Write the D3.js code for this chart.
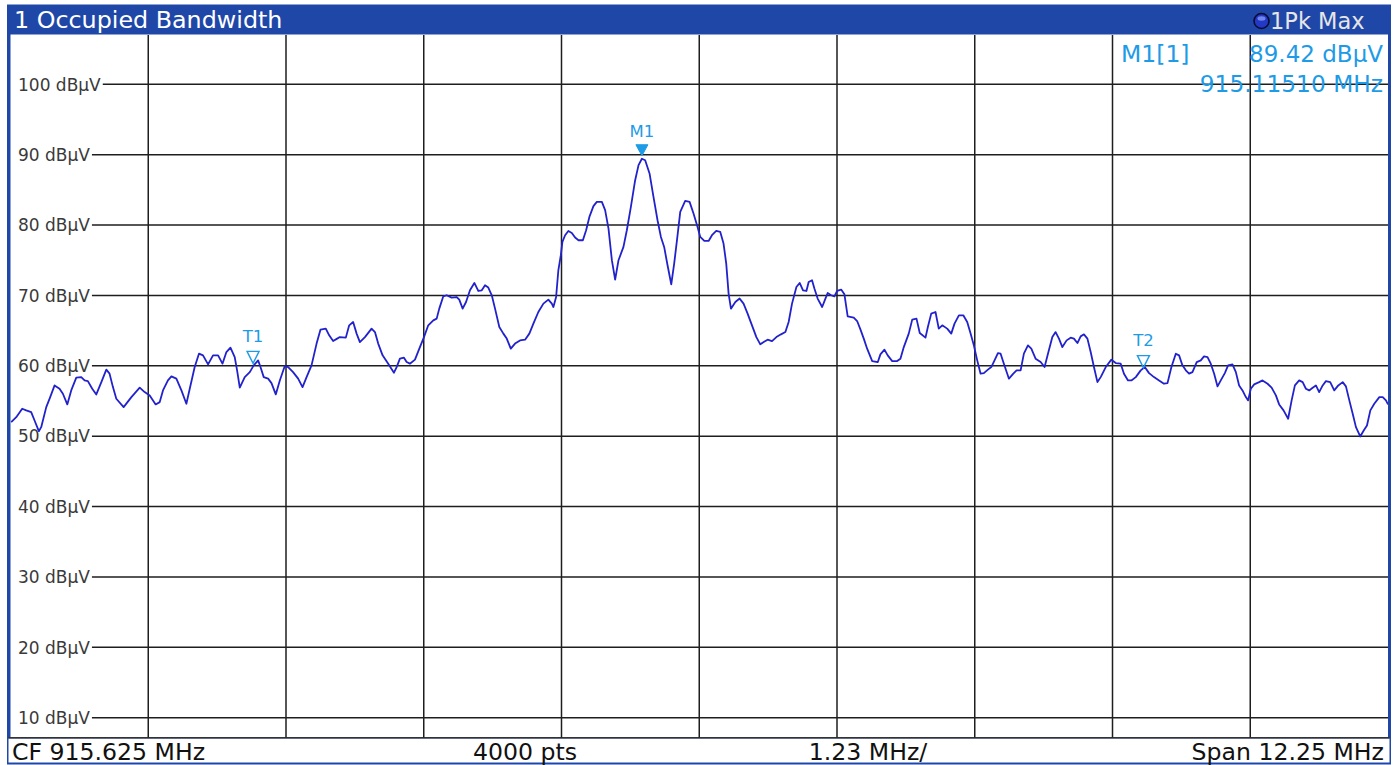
<!DOCTYPE html>
<html>
<head>
<meta charset="utf-8">
<script src="https://cdn.jsdelivr.net/npm/d3@7"></script>
<style>
html,body{margin:0;padding:0;background:#fff;}
svg{display:block;font-family:"DejaVu Sans",Verdana,sans-serif;}
</style>
</head>
<body>
<svg width="1398" height="765"></svg>
<script>
// ---------------- data ----------------
var title = "1 Occupied Bandwidth";
var traceName = "1Pk Max";
var refLevel = 107, levelRange = 100;        // dBµV
var centerMHz = 915.625, spanMHz = 12.25;
var yTicks = [10, 20, 30, 40, 50, 60, 70, 80, 90, 100];
var xGrid = [910.725, 911.95, 913.175, 914.4, 915.625, 916.85, 918.075, 919.3, 920.525];
var footer = ["CF 915.625 MHz", "4000 pts", "1.23 MHz/", "Span 12.25 MHz"];

var markerNames = ["M1", "T1", "T2"];
var markerMHz = [915.1151, 911.657, 919.575];
var markerDbuv = [89.42, 60.2, 59.6];
var markerFilled = [true, false, false];
var markerInfo = ["M1[1]", "89.42 dBµV", "915.11510 MHz"];

var traceMHz = [
909.506,909.551,909.604,909.640,909.684,909.714,909.752,909.773,909.818,909.853,
909.892,909.936,909.966,910.005,910.040,910.085,910.129,910.159,910.188,910.227,
910.263,910.308,910.352,910.381,910.411,910.441,910.506,910.575,910.649,910.693,
910.738,910.791,910.827,910.856,910.900,910.931,910.975,911.020,911.064,911.094,
911.138,911.176,911.212,911.257,911.301,911.346,911.385,911.420,911.456,911.494,
911.515,911.539,911.583,911.628,911.663,911.702,911.723,911.752,911.791,911.821,
911.859,911.895,911.939,911.969,912.013,912.058,912.097,912.133,912.177,912.222,
912.257,912.304,912.334,912.369,912.405,
912.429,912.482,912.512,912.547,912.578,912.607,912.652,912.711,912.741,912.770,
912.809,912.859,912.910,912.934,912.963,912.999,913.023,913.052,913.097,913.141,
913.177,913.215,913.260,913.290,913.313,913.349,913.379,913.423,913.468,913.491,
913.521,913.551,913.586,913.625,913.660,913.691,913.720,913.749,913.780,913.809,
913.847,913.883,913.913,913.949,913.987,914.031,914.076,914.114,914.150,914.194,
914.239,914.283,914.314,914.328,914.352,914.372,914.394,914.408,914.432,914.461,
914.492,914.521,914.551,914.590,914.619,914.648,914.684,914.714,914.759,914.788,
914.818,914.848,914.877,914.907,914.951,914.981,915.017,915.055,915.085,915.115,
915.144,915.183,915.218,915.254,915.284,915.313,915.343,915.376,915.402,915.427,
915.456,915.500,915.539,915.574,915.610,915.634,
915.670,915.708,915.738,915.776,915.812,915.841,915.865,915.886,915.907,915.946,
915.984,916.019,916.055,916.094,916.133,916.168,916.198,916.233,916.272,916.311,
916.352,916.391,916.420,916.450,916.489,916.518,916.548,916.578,916.598,916.628,
916.649,916.678,916.718,916.747,916.767,916.798,916.827,916.851,916.887,916.916,
916.945,916.999,917.029,917.059,917.088,917.118,917.163,917.213,917.236,917.272,
917.301,917.341,917.385,917.414,917.444,917.488,917.519,917.557,917.586,917.637,
917.658,917.688,917.726,917.755,917.786,917.830,917.866,917.895,917.934,917.973,
918.008,918.038,918.067,918.097,918.127,918.156,918.192,918.222,918.251,918.281,
918.305,918.334,918.379,918.418,918.447,918.483,918.512,918.548,918.578,918.616,
918.661,918.696,918.726,918.765,918.794,918.824,918.854,918.892,918.928,918.957,
918.988,919.017,919.046,919.077,919.106,919.135,919.166,919.195,919.240,919.290,
919.329,919.373,919.402,919.438,919.468,919.507,919.551,919.587,919.625,919.669,
919.714,919.758,919.789,919.824,919.863,919.892,919.922,919.952,919.981,920.011,
920.049,920.085,920.114,920.145,920.174,920.204,920.234,920.263,920.299,920.328,
920.367,920.397,920.426,920.456,920.486,920.506,920.530,920.560,920.604,920.634,
920.679,920.715,920.753,920.782,920.821,920.862,920.893,920.922,920.960,920.991,
921.020,921.049,921.080,921.109,921.138,921.169,921.198,921.236,921.272,921.308,
921.347,921.376,921.406,921.436,921.465,921.503,921.534,921.563,921.593,921.628,
921.673,921.703,921.732,921.750
];
var traceDbuv = [
51.99,52.70,53.90,53.66,53.42,52.23,50.71,51.28,54.13,55.55,
57.21,56.74,56.03,54.51,56.50,58.31,58.39,57.92,57.82,56.74,
55.93,57.68,59.45,58.88,56.97,55.32,54.13,55.55,56.89,56.26,
55.79,54.51,54.84,56.50,57.92,58.49,58.17,56.50,54.61,56.74,
59.82,61.72,61.48,60.20,61.48,61.48,60.30,61.95,62.58,61.24,
59.35,56.89,58.39,59.10,60.06,60.77,59.82,58.39,58.17,57.54,
55.93,57.92,59.96,59.82,59.10,58.17,56.97,58.39,60.06,63.15,
65.14,65.28,64.33,63.51,63.86,
64.08,64.00,65.75,66.22,64.57,63.37,64.08,65.28,64.79,63.15,
61.48,60.30,59.02,59.82,61.01,61.15,60.53,60.30,60.87,62.66,
64.08,65.75,66.46,66.70,68.12,69.87,70.02,69.69,69.77,69.40,
68.12,69.06,70.73,71.77,70.63,70.73,71.44,71.11,70.02,68.12,
65.51,64.57,63.86,62.43,63.15,63.61,63.71,64.57,65.99,67.64,
68.83,69.40,68.83,68.35,69.77,73.57,75.71,77.60,78.55,79.16,
78.88,78.22,77.84,77.84,79.26,81.15,82.68,83.29,83.29,82.11,
79.50,75.00,72.25,75.00,76.89,79.26,82.58,86.37,88.51,89.42,
89.20,87.33,84.00,80.68,78.31,76.89,74.28,71.58,74.52,77.84,
81.86,83.43,83.29,81.64,79.73,78.31,
77.74,77.74,78.55,79.16,79.02,77.37,74.52,70.26,68.12,69.06,
69.55,68.83,67.41,65.75,64.08,63.05,63.37,63.71,63.51,64.08,
64.47,64.79,66.22,68.83,71.20,71.77,70.73,70.63,71.91,72.15,
70.97,69.55,68.35,69.55,70.34,70.02,69.87,70.63,70.83,70.16,
67.03,66.84,66.36,65.14,63.86,62.43,60.67,60.53,61.62,62.29,
61.48,60.67,60.67,61.01,62.66,64.57,66.56,66.70,64.65,64.00,
65.51,67.41,67.64,65.28,65.75,65.28,64.57,65.99,67.17,67.17,
66.22,64.57,62.90,60.77,58.88,58.96,59.45,59.82,60.77,61.81,
61.72,60.30,58.17,58.88,59.35,59.35,61.72,62.90,62.43,61.01,
60.53,59.82,61.72,64.08,64.79,63.86,62.66,63.61,64.00,63.86,
63.23,64.18,64.47,63.86,61.95,59.82,57.68,58.39,59.82,60.87,
60.39,60.30,58.88,57.92,57.92,58.39,59.35,59.82,58.96,58.39,
57.92,57.45,57.54,59.82,61.72,61.48,60.06,59.35,58.88,59.10,
60.53,60.77,61.34,61.24,60.30,58.88,57.07,57.92,58.96,60.06,
60.20,59.10,57.21,56.50,55.55,55.08,56.74,57.36,57.68,57.92,
57.45,56.89,55.79,54.51,53.66,52.48,55.08,57.21,57.92,57.68,
56.74,56.50,56.89,57.21,56.26,57.21,57.82,57.68,56.50,57.21,
57.68,57.07,55.08,53.19,51.28,49.96,50.81,51.52,53.66,54.61,
55.55,55.55,55.08,54.51
];

// ---------------- layout ----------------
var plot = {left: 10.5, right: 1388, top: 35, bottom: 738.8};
var frameBlue = "#1f47a8";
var markColor = "#1e9be6";

var svg = d3.select("svg");

var x = d3.scaleLinear()
    .domain([centerMHz - spanMHz / 2, centerMHz + spanMHz / 2])
    .range([plot.left, plot.right]);
var y = d3.scaleLinear()
    .domain([refLevel - levelRange, refLevel])
    .range([plot.bottom, plot.top]);

// frame + title bar
svg.append("rect").attr("x", 7).attr("y", 4.5).attr("width", 1384).attr("height", 760)
    .style("fill", frameBlue);
svg.append("rect").attr("x", plot.left).attr("y", plot.top - 0.5)
    .attr("width", plot.right - plot.left).attr("height", 737.5 - plot.top)
    .style("fill", "#fff");
svg.append("rect").attr("x", 8.5).attr("y", 738.5).attr("width", 1381).attr("height", 24)
    .style("fill", "#fff");
svg.append("line").attr("x1", 8.5).attr("x2", 1389.5).attr("y1", 737.8).attr("y2", 737.8)
    .style("stroke", "#333").style("stroke-width", 1.5);

svg.append("text").attr("x", 14).attr("y", 28)
    .style("font-size", "23.8px").style("fill", "#fff").text(title);

// trace indicator top right
svg.append("circle").attr("cx", 1261.5).attr("cy", 21).attr("r", 7.5)
    .style("fill", "#2338c4").style("stroke", "#0b0b30").style("stroke-width", 1.6);
svg.append("ellipse").attr("cx", 1261.5).attr("cy", 18.5).attr("rx", 4).attr("ry", 2.2)
    .style("fill", "#6f86ee");
svg.append("text").attr("x", 1270).attr("y", 28.5)
    .style("font-size", "22.5px").style("fill", "#e6e6e6").text(traceName);

// vertical grid
svg.append("g").selectAll("line")
    .data(xGrid)
    .enter().append("line")
    .attr("x1", d => x(d)).attr("x2", d => x(d))
    .attr("y1", plot.top).attr("y2", 737.5)
    .style("stroke", "#1e1e1e").style("stroke-width", 1.5);

// horizontal grid with level labels
var yg = svg.append("g").selectAll("g")
    .data(yTicks)
    .enter().append("g");
yg.append("text")
    .attr("x", 18)
    .attr("y", d => y(d) + 6.3)
    .style("font-size", "17px").style("fill", "#3a3a3a")
    .text(d => d + " dBµV");
yg.append("line")
    .attr("x1", function(d){
        var t = d3.select(this.parentNode).select("text").node();
        return 18 + t.getComputedTextLength() + 2;
    })
    .attr("x2", plot.right)
    .attr("y1", d => y(d)).attr("y2", d => y(d))
    .style("stroke", "#1e1e1e").style("stroke-width", 1.5);

// trace
svg.append("clipPath").attr("id", "plotclip")
    .append("rect").attr("x", plot.left).attr("y", plot.top)
    .attr("width", plot.right - plot.left).attr("height", 737 - plot.top);

var pts = traceMHz.map((f, i) => [f, traceDbuv[i]]);
var line = d3.line()
    .x(d => x(d[0]))
    .y(d => y(d[1]));
svg.append("path")
    .datum(pts)
    .attr("clip-path", "url(#plotclip)")
    .attr("d", line)
    .style("fill", "none")
    .style("stroke", "#2222cc")
    .style("stroke-width", 1.8)
    .style("stroke-linejoin", "round");

// markers
var mk = svg.append("g").selectAll("g")
    .data(markerNames)
    .enter().append("g")
    .attr("transform", (d, i) => {
        var tip = y(markerDbuv[i]) - (markerFilled[i] ? 3 : 1);
        return "translate(" + x(markerMHz[i]) + "," + tip + ")";
    });
mk.append("path")
    .attr("d", (d, i) => markerFilled[i] ? "M-6,-11L6,-11L0,0Z" : "M-6,-12L6,-12L0,0Z")
    .style("fill", (d, i) => markerFilled[i] ? markColor : "none")
    .style("stroke", markColor)
    .style("stroke-width", (d, i) => markerFilled[i] ? 1 : 1.4);
mk.append("text")
    .attr("x", 0)
    .attr("y", (d, i) => markerFilled[i] ? -19 : -21.5)
    .attr("text-anchor", "middle")
    .style("font-size", "16.5px").style("fill", markColor)
    .text(d => d);

// marker readout
svg.append("text").attr("x", 1121).attr("y", 61.5)
    .style("font-size", "23.5px").style("fill", markColor).text(markerInfo[0]);
svg.append("text").attr("x", 1383).attr("y", 61.5).attr("text-anchor", "end")
    .style("font-size", "23px").style("fill", markColor).text(markerInfo[1]);
svg.append("text").attr("x", 1383).attr("y", 91.5).attr("text-anchor", "end")
    .style("font-size", "23.3px").style("fill", markColor).text(markerInfo[2]);

// footer
var footX = [12, 525, 868, 1384];
var footAnchor = ["start", "middle", "middle", "end"];
svg.append("g").selectAll("text")
    .data(footer)
    .enter().append("text")
    .attr("x", (d, i) => footX[i])
    .attr("y", 760)
    .attr("text-anchor", (d, i) => footAnchor[i])
    .style("font-size", "23.6px").style("fill", "#111")
    .text(d => d);
</script>
</body>
</html>
